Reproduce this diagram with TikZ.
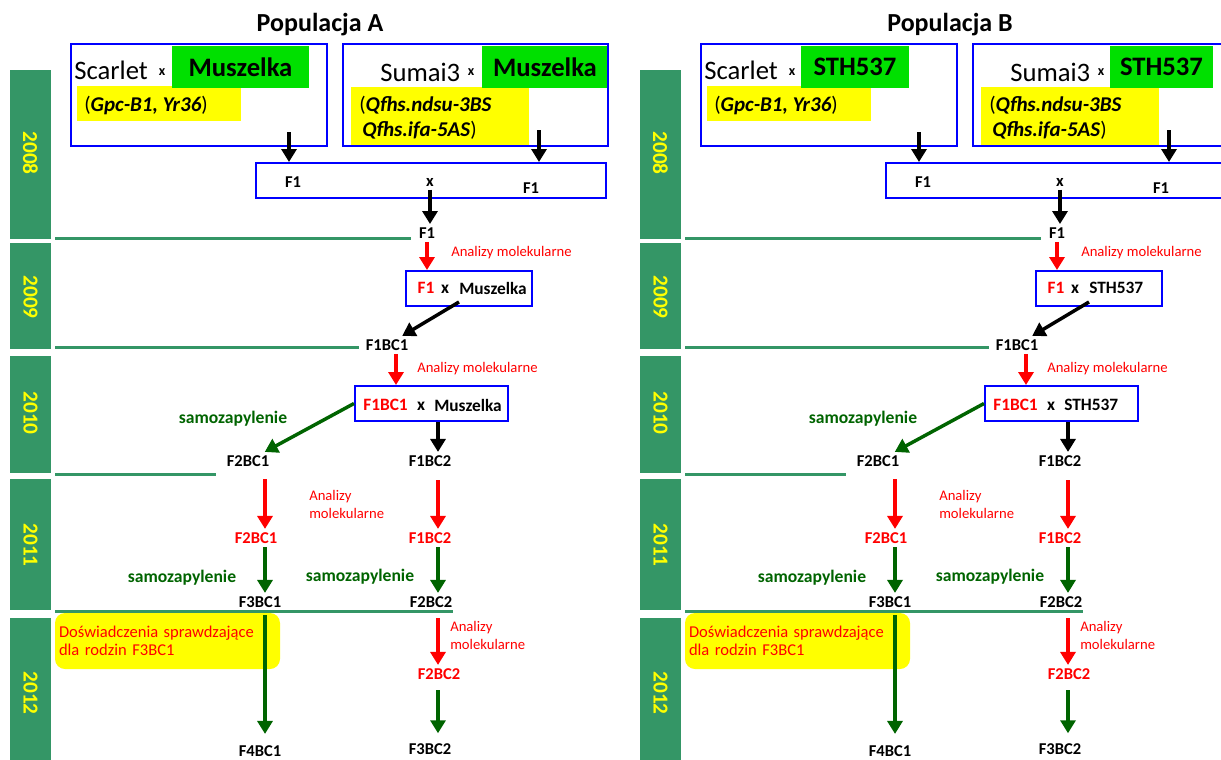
\documentclass[tikz,border=0pt]{standalone}
\usepackage{fontspec}
\setmainfont{Carlito}
\usetikzlibrary{arrows.meta}
\definecolor{barG}{RGB}{52,150,102}
\definecolor{lineG}{RGB}{52,150,102}
\definecolor{limeG}{RGB}{0,224,0}
\definecolor{darkG}{RGB}{0,100,0}
\definecolor{bBlue}{RGB}{0,0,255}
\definecolor{yYel}{RGB}{255,255,0}
\definecolor{rRed}{RGB}{255,0,0}
\tikzset{
  lbl/.style={font=\bfseries\fontsize{12.4}{15}\selectfont, inner sep=2.5pt},
  rlbl/.style={lbl, text=rRed},
  inbox/.style={font=\bfseries\fontsize{13}{15}\selectfont, inner sep=0pt},
  anal/.style={text=rRed, font=\fontsize{11}{13.5}\selectfont, inner sep=0pt, align=left},
  samo/.style={text=darkG, font=\bfseries\fontsize{13.2}{15}\selectfont, inner sep=0pt},
  bbox/.style={draw=bBlue, line width=1.5pt, inner sep=0pt},
  pbox/.style={fill=limeG, font=\bfseries\fontsize{20}{24}\selectfont, minimum height=31.5pt, inner sep=0pt},
  bigtxt/.style={font=\fontsize{20}{24}\selectfont, inner sep=0pt},
  smx/.style={font=\bfseries\fontsize{10.5}{12}\selectfont, inner sep=0pt},
  genetxt/.style={font=\fontsize{15.75}{18.75}\selectfont, inner sep=0pt, anchor=west},
  yeartxt/.style={text=yYel, font=\bfseries\fontsize{16}{18}\selectfont, rotate=-90, inner sep=0pt},
  sepline/.style={draw=lineG, line width=2.25pt},
  arrbase/.style={-{Triangle[length=9.75pt,width=11.25pt]}, line width=2.6pt},
  karr/.style={arrbase, draw=black},
  rarr/.style={arrbase, draw=rRed},
  garr/.style={arrbase, draw=darkG},
  ttl/.style={font=\bfseries\fontsize{19.5}{23}\selectfont, inner sep=0pt},
  notebox/.style={fill=yYel, rounded corners=7.5pt, minimum width=168.75pt, minimum height=42pt,
    text width=162.75pt, align=left, inner sep=3pt, text=rRed, font=\fontsize{12.4}{13.5}\selectfont}
}
\newcommand\drawpanel[7]{%
\begin{scope}[shift={(#1,0)}]
  \node[ttl] (#2-title) at (320,25) {Populacja #2};
  % year bars
  \fill[barG] (10,70) rectangle (51,239);
  \fill[barG] (10,243) rectangle (51,349);
  \fill[barG] (10,356) rectangle (51,473);
  \fill[barG] (10,479) rectangle (51,610);
  \fill[barG] (10,618) rectangle (51,770);
  \node[yeartxt] (#2-y8) at (30.5,153) {2008};
  \node[yeartxt] (#2-y9) at (30.5,297) {2009};
  \node[yeartxt] (#2-y10) at (30.5,413) {2010};
  \node[yeartxt] (#2-y11) at (30.5,545) {2011};
  \node[yeartxt] (#2-y12) at (30.5,693) {2012};
  % separators
  \draw[sepline] (55,238) -- (411,238);
  \draw[sepline] (55,347) -- (359,347);
  \draw[sepline] (55,474) -- (216,474);
  \draw[sepline] (55,611) -- (453,611);
  % top crosses
  \fill[yYel] (77,86) rectangle (241,121);
  \fill[yYel] (351,87) rectangle (529,145);
  \node[pbox, minimum width=#5] (#2-p1) at (#4,67) {#3};
  \node[pbox, minimum width=#7] (#2-p2) at (#6,67) {#3};
  \node[bbox, minimum width=192pt, minimum height=76.5pt] (#2-b1) at (199,95) {};
  \node[bbox, minimum width=198.75pt, minimum height=76.5pt] (#2-b2) at (475.5,95) {};
  \node[bigtxt, anchor=west] (#2-sc) at (74,70) {Scarlet};
  \node[smx] (#2-x1) at (162,72) {x};
  \node[bigtxt, anchor=west] (#2-su) at (380,72) {Sumai3};
  \node[smx] (#2-x2) at (471,72) {x};
  \node[genetxt] (#2-g1) at (84,105) {(\textbf{\textit{Gpc-B1, Yr36}})};
  \node[genetxt] (#2-g2) at (359,105) {(\textbf{\textit{Qfhs.ndsu-3BS}}};
  \node[genetxt] (#2-g3) at (362,130) {\textbf{\textit{Qfhs.ifa-5AS}})};
  \node[bbox, minimum width=262.5pt, minimum height=26.25pt] (#2-b3) at (431,180.5) {};
  \node[lbl] (#2-f1a) at (293,182) {F1};
  \node[lbl] (#2-x3) at (430,182) {x};
  \node[lbl] (#2-f1b) at (531,188) {F1};
  \coordinate (#2-s1) at (289,132);
  \coordinate (#2-s2) at (539,130);
  \draw[karr] (#2-s1) -- (#2-s1 |- #2-b3.north);
  \draw[karr] (#2-s2) -- (#2-s2 |- #2-b3.north);
  \node[lbl] (#2-f1) at (427,233) {F1};
  \draw[karr] (#2-x3.south) -- (#2-x3.south |- #2-f1.north);
  % 2009
  \node[anal, anchor=west] (#2-an1) at (451,253) {Analizy molekularne};
  \node[bbox, minimum width=94.5pt, minimum height=26.25pt] (#2-bf1) at (469,288.5) {};
  \draw[rarr] (#2-f1.south) -- (#2-f1.south |- #2-bf1.north);
  \node[inbox, text=rRed] (#2-bf1a) at (426,288) {F1};
  \node[inbox] (#2-bf1x) at (445,289) {x};
  \node[inbox, anchor=west] (#2-bf1p) at (459,288) {#3};
  \coordinate (#2-s5) at (459,302);
  \node[lbl] (#2-f1bc1) at (387,345) {F1BC1};
  \draw[karr] (#2-s5) -- (#2-f1bc1);
  % 2010
  \node[anal, anchor=west] (#2-an2) at (417,369) {Analizy molekularne};
  \node[bbox, minimum width=114.75pt, minimum height=26.25pt] (#2-bc) at (431.5,403.5) {};
  \coordinate (#2-s6) at ([xshift=6.75pt]#2-f1bc1.south);
  \draw[rarr] (#2-s6) -- (#2-s6 |- #2-bc.north);
  \node[inbox, text=rRed] (#2-bca) at (385.5,405) {F1BC1};
  \node[inbox] (#2-bcx) at (421,406) {x};
  \node[inbox, anchor=west] (#2-bcp) at (434,405) {#3};
  \node[samo] (#2-sm1) at (233,419) {samozapylenie};
  \node[lbl] (#2-f2bc1) at (248,461) {F2BC1};
  \node[lbl] (#2-f1bc2) at (430,461) {F1BC2};
  \coordinate (#2-cL) at (265,0);
  \coordinate (#2-cR) at (438,0);
  \draw[garr] (#2-bc.west) -- (#2-f2bc1);
  \draw[karr] (#2-bc.south -| #2-cR) -- (#2-cR |- #2-f1bc2.north);
  % 2011
  \node[rlbl] (#2-f2bc1r) at (256,538) {F2BC1};
  \node[rlbl] (#2-f1bc2r) at (430,538) {F1BC2};
  \node[anal, anchor=west] (#2-an3) at (309,504) {Analizy\\molekularne};
  \draw[rarr, shorten <=7pt] (#2-cL |- #2-f2bc1.south) -- (#2-cL |- #2-f2bc1r.north);
  \draw[rarr, shorten <=7.5pt] (#2-cR |- #2-f1bc2.south) -- (#2-cR |- #2-f1bc2r.north);
  \node[samo] (#2-sm2) at (182,578) {samozapylenie};
  \node[samo] (#2-sm3) at (360,577) {samozapylenie};
  \node[lbl] (#2-f3bc1) at (260,602) {F3BC1};
  \node[lbl] (#2-f2bc2) at (431,602) {F2BC2};
  \draw[garr] (#2-cL |- #2-f2bc1r.south) -- (#2-cL |- #2-f3bc1.north);
  \draw[garr] (#2-cR |- #2-f1bc2r.south) -- (#2-cR |- #2-f2bc2.north);
  % 2012
  \node[notebox] (#2-note) at (167.5,641) {Doświadczenia sprawdzające\\dla rodzin F3BC1};
  \node[lbl] (#2-f4bc1) at (260,751) {F4BC1};
  \draw[garr, shorten <=3pt, shorten >=6pt] (#2-cL |- #2-f3bc1.south) -- (#2-cL |- #2-f4bc1.north);
  \node[rlbl] (#2-f2bc2r) at (439,674) {F2BC2};
  \node[anal, anchor=west] (#2-an4) at (450,635) {Analizy\\molekularne};
  \draw[rarr, shorten <=5.5pt] (#2-cR |- #2-f2bc2.south) -- (#2-cR |- #2-f2bc2r.north);
  \node[lbl] (#2-f3bc2) at (430,749) {F3BC2};
  \draw[garr, shorten <=5.5pt, shorten >=5pt] (#2-cR |- #2-f2bc2r.south) -- (#2-cR |- #2-f3bc2.north);
\end{scope}}
\begin{document}
\begin{tikzpicture}[x=0.75pt,y=-0.75pt]
  \useasboundingbox (0,0) rectangle (1221,760);
  \clip (0,0) rectangle (1221,760);
  \fill[white] (0,0) rectangle (1221,760);
  \drawpanel{0}{A}{Muszelka}{240.5}{102.75pt}{545}{94.5pt}
  \drawpanel{630}{B}{STH537}{225}{81pt}{531.5}{77.25pt}
\end{tikzpicture}
\end{document}
